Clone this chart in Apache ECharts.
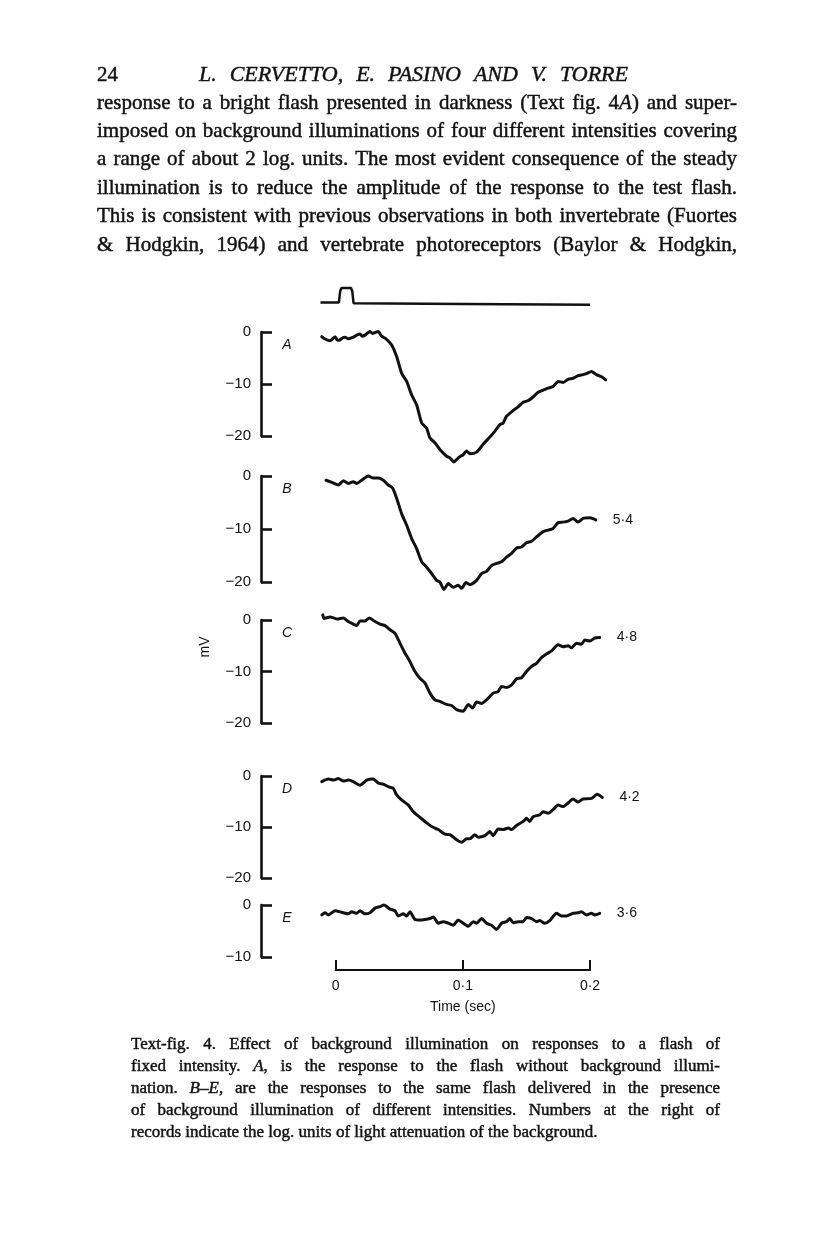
<!DOCTYPE html>
<html>
<head>
<meta charset="utf-8">
<script src="https://cdn.jsdelivr.net/npm/echarts@6/dist/echarts.min.js"></script>
<style>
  html, body { margin: 0; background: #fff; }
  #main { width: 816px; height: 1234px; }
</style>
</head>
<body>
<div id="main"></div>
<script>
// --- data: [time (ms), potential (mV)] ---
const traceA = [[-11,-0.9],[-8,-1.4],[-4.5,-1.7],[-2,-1.2],[-0.5,-0.9],[1.5,-1.6],[3.4,-1.5],[5.5,-1.1],[7.3,-1.0],[10,-1.3],
  [13.8,-1.0],[16.5,-0.6],[19.1,-0.4],[21,-0.8],[23,-0.6],[25,-0.2],[26.9,0.1],[29,-0.3],[30.9,-0.1],[33.5,0.1],
  [36.1,-0.8],[40,-1.4],[44,-2.5],[47.9,-4.7],[51.8,-7.9],[55.8,-9.5],[59.7,-12.1],[63.6,-14.0],[67.6,-17.5],[71.5,-18.5],
  [74.1,-20.4],[78,-21.3],[81.9,-22.6],[87.2,-23.9],[89.8,-24.2],[92.9,-25.0],[96.3,-24.2],[100.2,-23.6],[102.9,-22.9],[105.5,-23.4],
  [110.8,-23.1],[115.9,-21.6],[121.2,-20.2],[125.1,-19.1],[129.1,-17.8],[131.7,-17.5],[134.3,-16.2],[139.5,-15.1],[143.4,-14.4],[147.4,-13.5],
  [151.3,-13.2],[155.2,-12.5],[159.2,-11.6],[163.1,-11.2],[167,-10.8],[170.9,-10.5],[174.9,-9.5],[178.8,-9.7],[182.7,-9.1],[186.6,-8.9],
  [190.6,-8.4],[194.5,-8.2],[197.2,-8.0],[201.1,-7.6],[205,-8.2],[209,-8.6],[212.3,-9.2]];
const traceB = [[-7.6,-0.8],[-3.1,-1.2],[2.0,-1.7],[6.0,-0.9],[9.9,-1.4],[13.8,-1.1],[16.5,-1.4],[20.4,-0.8],[25.6,0],[29.5,-0.4],
  [33.5,-0.4],[37.4,-0.8],[41.3,-1.7],[44.8,-2.3],[47.9,-4.2],[51.8,-7.1],[55.8,-9.3],[59.7,-11.8],[63.6,-13.7],[67.6,-16.2],
  [71.5,-17.2],[75.4,-18.4],[79.3,-19.7],[81.9,-20.0],[85.1,-21.4],[88.5,-20.3],[92.4,-21.0],[96.3,-20.6],[99,-21.2],[102.4,-20.1],
  [105.5,-20.5],[110.8,-19.7],[114.7,-18.4],[118.6,-18.0],[122.5,-16.9],[126.5,-16.5],[130.4,-16.2],[134.3,-15.3],[138.3,-14.6],[142.2,-13.6],
  [146.1,-13.4],[150,-12.6],[154,-12.3],[157.9,-11.5],[163.1,-10.5],[167,-10.2],[170.9,-9.9],[174.9,-8.8],[178.8,-8.7],[182.7,-8.5],
  [186.6,-8.0],[190.6,-8.7],[194.5,-8.0],[199.8,-7.9],[204.5,-8.3]];
const traceC = [[-10.2,1.0],[-9.2,0.3],[-4.5,0.6],[0.8,0.2],[6.0,0.4],[9.9,-0.3],[13.8,-0.8],[16.5,-1.1],[19.1,-0.2],[23,-0.2],
  [26.4,0.4],[30.9,-0.3],[34.8,-0.8],[38.7,-1.1],[42.7,-1.9],[46.6,-2.6],[50.5,-4.5],[54.4,-6.4],[58.4,-8.1],[62.3,-10.0],
  [66.2,-11.3],[70.1,-12.2],[74.1,-14.2],[78,-15.5],[81.9,-15.8],[87.2,-16.4],[91.1,-16.6],[95,-17.4],[100.2,-17.7],[104.2,-16.4],
  [107.6,-17.1],[110.8,-15.9],[114.7,-16.2],[118.6,-15.5],[123.8,-14.2],[127.7,-13.9],[130.4,-12.9],[134.3,-13.1],[138.3,-12.6],[142.2,-11.4],
  [146.1,-11.2],[150,-10.0],[154,-9.0],[157.9,-8.4],[161.8,-7.3],[165.7,-6.6],[169.7,-6.0],[174.9,-4.8],[178.8,-5.2],[182.7,-5.0],
  [185.4,-5.4],[189.3,-4.5],[193.2,-4.7],[195.8,-3.9],[199.8,-4.1],[203.7,-3.5],[207.6,-3.4]];
const traceD = [[-11,-1.1],[-5.8,-0.6],[-1.9,-0.8],[2.0,-0.5],[6.0,-1.0],[9.9,-0.8],[13.8,-1.1],[19.1,-1.8],[24.4,-0.8],[29.5,-0.6],
  [33.5,-1.4],[37.4,-1.6],[41.3,-2.1],[45.2,-2.4],[47.9,-3.7],[51.8,-4.7],[57.1,-5.7],[61,-7.0],[66.2,-8.1],[71.5,-9.2],
  [75.4,-9.9],[80.6,-10.5],[85.9,-11.4],[89.8,-11.5],[95,-12.5],[99,-13.0],[102.9,-12.3],[105.5,-12.3],[109.4,-11.5],[112,-12.0],
  [117.3,-11.7],[121.2,-10.9],[123.8,-11.7],[127.7,-10.4],[131.7,-10.5],[135.6,-10.2],[138.3,-10.5],[142.2,-9.7],[147.4,-8.9],[150,-8.3],
  [152.6,-8.9],[155.2,-8.0],[160.5,-7.6],[163.1,-7.0],[167,-7.3],[170.9,-6.6],[174.9,-5.7],[178.8,-6.0],[182.7,-5.3],[186.6,-4.5],
  [190.6,-5.1],[194.5,-4.5],[201.1,-4.4],[205.5,-3.6],[209.7,-4.2]];
const traceE = [[-11,-1.9],[-8.4,-1.5],[-5.8,-1.9],[-0.5,-1.1],[4.7,-1.4],[9.9,-1.7],[12.6,-1.3],[16.5,-1.6],[19.1,-1.1],[23,-1.7],
  [26.9,-1.5],[30.9,-0.6],[34.8,-0.3],[37.9,0],[42.7,-0.8],[46.6,-1.1],[49.2,-2.1],[53.1,-1.7],[55.8,-2.1],[58.4,-1.3],
  [62.3,-2.8],[66.2,-2.9],[70.1,-2.8],[74.1,-2.6],[76.7,-2.3],[80.6,-3.5],[84.5,-3.2],[88.5,-3.5],[92.4,-3.9],[96.3,-2.9],
  [100.2,-3.5],[104.2,-4.1],[108.1,-3.2],[110.8,-3.5],[114.7,-2.6],[118.6,-3.5],[122.5,-3.9],[126.5,-4.7],[130.4,-3.5],[134.3,-3.2],
  [136.9,-2.6],[139.5,-3.4],[143.4,-3.2],[147.4,-3.2],[150,-2.4],[154,-2.6],[157.9,-3.2],[160.5,-3.0],[164.4,-3.5],[168.3,-3.0],
  [173.6,-1.6],[177.5,-2.1],[181.4,-2.1],[186.6,-1.6],[190.6,-1.5],[193.2,-1.3],[197.2,-1.9],[201.1,-1.6],[203.7,-1.9],[207.6,-1.6]];

// flash monitor (relative level)
const stimTime  = [-12, 2.5, 3.5, 4.5, 12, 13, 14, 100, 200];
const stimLevel = [0.1, 0.1, 0.8, 1, 1, 0.8, 0.05, 0, -0.05];

const panelNames  = ['A', 'B', 'C', 'D', 'E'];
const attenuation = ['', '5·4', '4·8', '4·2', '3·6'];   // log units
const panelMin    = [-20, -20, -20, -20, -10];          // mV scale bars
const timeTicks   = [0, 100, 200];                      // ms

const headerText = 'L. CERVETTO, E. PASINO AND V. TORRE';
const bodyLines = [
  'response to a bright flash presented in darkness (Text fig. 4_A_) and super-',
  'imposed on background illuminations of four different intensities covering',
  'a range of about 2 log. units. The most evident consequence of the steady',
  'illumination is to reduce the amplitude of the response to the test flash.',
  'This is consistent with previous observations in both invertebrate (Fuortes',
  '& Hodgkin, 1964) and vertebrate photoreceptors (Baylor & Hodgkin,'
];
const captionLines = [
  'Text-fig. 4. Effect of background illumination on responses to a flash of',
  'fixed intensity. _A_, is the response to the flash without background illumi-',
  'nation. _B–E_, are the responses to the same flash delivered in the presence',
  'of background illumination of different intensities. Numbers at the right of',
  'records indicate the log. units of light attenuation of the background.'
];

// --- layout ---
const INK = '#111';
const SANS = "'Liberation Sans', Arial, sans-serif";
const SERIF = "'Liberation Serif', 'Times New Roman', serif";
const plotLeft = 310.3, plotWidth = 305.2;     // -20 .. 220 ms
const panelTop = [332, 476, 620, 776, 905];
const panelH   = [104, 106, 103, 102, 52];

// text helpers (justified lines, _x_ = italic)
const ctx = document.createElement('canvas').getContext('2d');
function fontOf(size, italic) { return (italic ? 'italic ' : '') + size + 'px ' + SERIF; }
function measure(t, f) { ctx.font = f; return ctx.measureText(t).width; }

function textLine(str, x0, y, width, size, justify, italicAll) {
  const out = [];
  const words = str.split(' ').filter(w => w);
  const parsed = words.map(w => w.split(/(_[^_]+_)/).filter(s => s).map(s => {
    const it = italicAll || /^_.*_$/.test(s);
    const t = s.replace(/_/g, '');
    const f = fontOf(size, it);
    return { t, f, w: measure(t, f) };
  }));
  const wordW = parsed.map(p => p.reduce((a, s) => a + s.w, 0));
  const total = wordW.reduce((a, b) => a + b, 0);
  let gap = measure(' ', fontOf(size, false));
  if (justify && words.length > 1) gap = Math.max(2, (width - total) / (words.length - 1));
  let x = x0;
  parsed.forEach(p => {
    p.forEach(s => {
      // thin stroke gives the heavier look of the printed page
      out.push({ type: 'text', x: x, y: y, silent: true,
        style: { text: s.t, font: s.f, fill: INK, stroke: INK, lineWidth: 0.45,
                 textAlign: 'left', textVerticalAlign: 'middle' } });
      x += s.w;
    });
    x += gap;
  });
  return out;
}

let graphics = [];
graphics.push({ type: 'text', x: 97, y: 75,
  style: { text: '24', font: fontOf(21, false), fill: INK, stroke: INK, lineWidth: 0.45, textVerticalAlign: 'middle' } });
graphics = graphics.concat(textLine(headerText, 199, 75, 429, 22, true, true));
bodyLines.forEach((l, i) => { graphics = graphics.concat(textLine(l, 97, 103 + i * 28.4, 640, 21, true, false)); });
captionLines.forEach((l, i) => {
  graphics = graphics.concat(textLine(l, 131, 1045 + i * 22, 589, 17, i < captionLines.length - 1, false));
});
panelNames.forEach((n, i) => {
  graphics.push({ type: 'text', x: 287, y: panelTop[i] + 13,
    style: { text: n, font: 'italic 14px ' + SANS, fill: INK, textAlign: 'center', textVerticalAlign: 'middle' } });
});
graphics.push({ type: 'text', x: 205, y: 647, rotation: Math.PI / 2,
  style: { text: 'mV', font: '14px ' + SANS, fill: INK, textAlign: 'center', textVerticalAlign: 'middle' } });

// --- grids / axes / series ---
const grids = [{ left: plotLeft, width: plotWidth, top: 288, height: 16 }];
const xAxes = [{ gridIndex: 0, type: 'value', min: -20, max: 220, show: false }];
const yAxes = [{ gridIndex: 0, type: 'value', min: 0, max: 1, show: false }];
const series = [{
  type: 'line', xAxisIndex: 0, yAxisIndex: 0, clip: false, showSymbol: false,
  data: stimTime.map((t, i) => [t, stimLevel[i]]),
  lineStyle: { color: INK, width: 2.5 }
}];

const traces = [traceA, traceB, traceC, traceD, traceE];
traces.forEach((tr, i) => {
  const gi = i + 1;
  grids.push({ left: plotLeft, width: plotWidth, top: panelTop[i], height: panelH[i] });
  xAxes.push({ gridIndex: gi, type: 'value', min: -20, max: 220, show: false });
  yAxes.push({
    gridIndex: gi, type: 'value', min: panelMin[i], max: 0, interval: 10,
    position: 'left', offset: plotLeft - 261,
    axisLine: { show: true, onZero: false, lineStyle: { color: INK, width: 2.6 } },
    axisTick: { show: true, inside: true, length: 11, lineStyle: { color: INK, width: 2.6 } },
    axisLabel: { margin: 10, fontSize: 15, fontFamily: SANS, color: INK,
      formatter: v => (v < 0 ? '\u2212' + (-v) : String(v)) },
    splitLine: { show: false }
  });
  series.push({
    name: panelNames[i], type: 'line', xAxisIndex: gi, yAxisIndex: gi,
    data: tr, clip: false, showSymbol: false, smooth: 0.2,
    lineStyle: { color: INK, width: 3, join: 'round', cap: 'round' },
    endLabel: {
      show: attenuation[i] !== '', distance: 17,
      formatter: () => attenuation[i],
      fontSize: 14, fontFamily: SANS, color: INK
    }
  });
});

// time scale bar
const tg = grids.length;
grids.push({ left: 335.7, width: 254.3, top: 950, height: 20 });
xAxes.push({
  gridIndex: tg, type: 'value', min: timeTicks[0], max: timeTicks[timeTicks.length - 1], interval: 100,
  axisLine: { show: true, onZero: false, lineStyle: { color: INK, width: 2 } },
  axisTick: { show: true, inside: true, length: 10, lineStyle: { color: INK, width: 2 } },
  axisLabel: { margin: 9, fontSize: 14, fontFamily: SANS, color: INK,
    formatter: v => (v === 0 ? '0' : (v / 1000).toFixed(1).replace('.', '·')) },
  splitLine: { show: false },
  name: 'Time (sec)', nameLocation: 'middle', nameGap: 30,
  nameTextStyle: { fontSize: 14, fontFamily: SANS, color: INK }
});
yAxes.push({ gridIndex: tg, type: 'value', show: false });
series.push({ type: 'line', xAxisIndex: tg, yAxisIndex: tg, data: [] });

const chart = echarts.init(document.getElementById('main'), null, { renderer: 'canvas' });
chart.setOption({
  backgroundColor: '#fff',
  animation: false,
  grid: grids,
  xAxis: xAxes,
  yAxis: yAxes,
  series: series,
  graphic: { elements: graphics }
});
</script>
</body>
</html>
